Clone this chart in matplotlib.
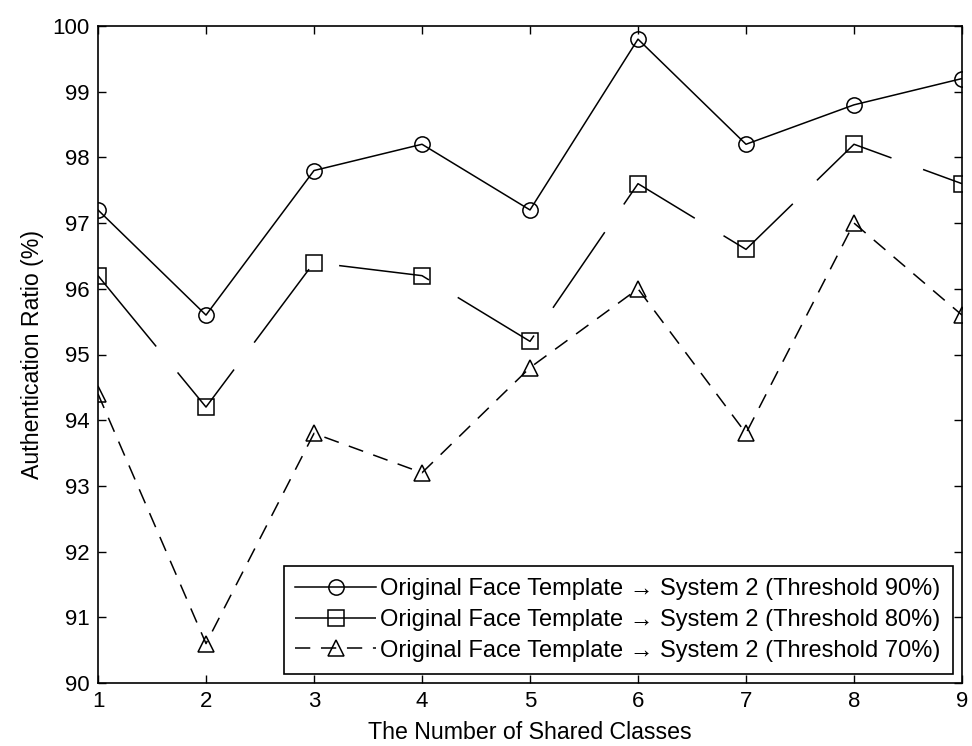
import matplotlib
matplotlib.use("Agg")
import matplotlib.pyplot as plt

plt.rcParams['font.family'] = ['Liberation Sans', 'DejaVu Sans']

shared_classes = [1, 2, 3, 4, 5, 6, 7, 8, 9]
threshold_90 = [97.2, 95.6, 97.8, 98.2, 97.2, 99.8, 98.2, 98.8, 99.2]
threshold_80 = [96.2, 94.2, 96.4, 96.2, 95.2, 97.6, 96.6, 98.2, 97.6]
threshold_70 = [94.4, 90.6, 93.8, 93.2, 94.8, 96.0, 93.8, 97.0, 95.6]
labels = [
    "Original Face Template \u2192 System 2 (Threshold 90%)",
    "Original Face Template \u2192 System 2 (Threshold 80%)",
    "Original Face Template \u2192 System 2 (Threshold 70%)",
]
y_ticks = [90, 91, 92, 93, 94, 95, 96, 97, 98, 99, 100]

fig = plt.figure(figsize=(9.72, 7.46), dpi=100)
ax = fig.add_axes([98/972, 1-683/746, (962-98)/972, (683-26)/746])

ax.plot(shared_classes, threshold_90, color='black', lw=1.1, marker='o', ms=11,
        mfc='none', mec='black', mew=1.1, label=labels[0])
ax.plot(shared_classes, threshold_80, color='black', lw=1.1, marker='s', ms=11,
        mfc='none', mec='black', mew=1.1, dashes=(60, 22), label=labels[1])
ax.plot(shared_classes, threshold_70, color='black', lw=1.1, marker='^', ms=11,
        mfc='none', mec='black', mew=1.1, dashes=(10, 7), label=labels[2])

ax.set_xlim(1, 9)
ax.set_ylim(90, 100)
ax.set_xticks(shared_classes)
ax.set_yticks(y_ticks)
ax.tick_params(direction='in', top=True, right=True, length=6, width=1, labelsize=16, pad=6)
for s in ax.spines.values():
    s.set_linewidth(1.2)

ax.set_xlabel("The Number of Shared Classes", fontsize=16.7, labelpad=6)
ax.set_ylabel("Authentication Ratio (%)", fontsize=16.7, labelpad=6)

leg = ax.legend(loc='lower right', fontsize=17, frameon=True, fancybox=False,
                edgecolor='black', framealpha=1, handlelength=3.4,
                labelspacing=0.38, borderaxespad=0.4, handletextpad=0.2,
                borderpad=0.5)
leg.get_frame().set_linewidth(1.2)

fig.savefig("out.png", dpi=100)
